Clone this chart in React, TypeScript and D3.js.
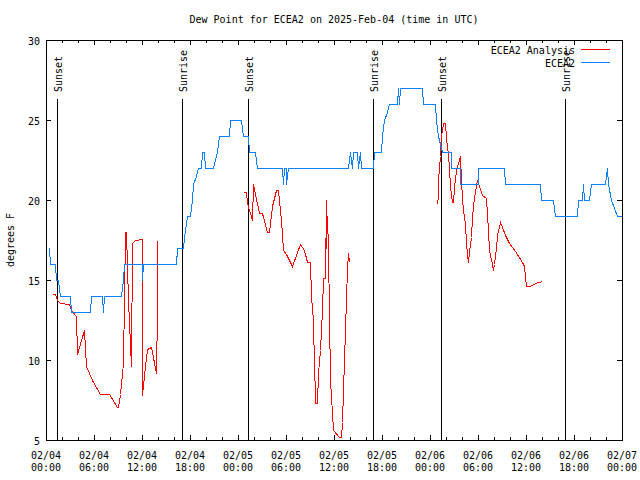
import React from "react";
import * as d3 from "d3";

const START = Date.UTC(2025, 1, 4, 0, 0);
const END = Date.UTC(2025, 1, 7, 0, 0);
const TITLE = "Dew Point for ECEA2 on 2025-Feb-04 (time in UTC)";
const Y_LABEL = "degrees F";
const yTicks = [5, 10, 15, 20, 25, 30];
const seriesNames = ["ECEA2 Analysis", "ECEA2"];
const seriesColors = ["#ff0000", "#0a80ff"];

// hours after 02/04 00:00 UTC
const eventHours = [1.42, 17.04, 25.29, 40.92, 49.42, 64.92];
const eventLabels = ["Sunset", "Sunrise", "Sunset", "Sunrise", "Sunset", "Sunrise"];

// ECEA2 station observations [hour, degF]
const stationSeries: [number, number][] = [
  [0.29, 17], [0.4, 17], [0.5, 16], [1.13, 16], [1.25, 15], [1.5, 15], [1.75, 14], [3.0, 14],
  [3.13, 13], [5.5, 13], [5.63, 14], [7.0, 14], [7.1, 13], [7.25, 14], [9.34, 14], [9.6, 15],
  [9.79, 16], [11.96, 16], [12.0, 15], [12.13, 16], [16.21, 16], [16.41, 17], [17.09, 17],
  [17.25, 17.7], [17.59, 19], [18.0, 19], [18.2, 20], [18.38, 21], [18.7, 21.5], [19.0, 22],
  [19.4, 22], [19.5, 23], [19.75, 23], [19.88, 22], [20.88, 22], [21.34, 23], [21.66, 24],
  [22.84, 24], [23.0, 25], [24.38, 25], [24.63, 24], [25.21, 24], [25.41, 23], [26.16, 23],
  [26.38, 22], [29.46, 22], [29.63, 21], [29.75, 22], [29.95, 22], [30.0, 21], [30.19, 22],
  [37.79, 22], [38.0, 23], [38.21, 22], [38.38, 23], [38.88, 23], [39.0, 22], [39.21, 23],
  [39.38, 22], [40.91, 22], [41.0, 23], [41.84, 23], [42.0, 24], [42.3, 25], [42.6, 25.5],
  [42.9, 26], [43.91, 26], [44.0, 27], [44.13, 26], [44.25, 27], [46.96, 27], [47.13, 26], [48.63, 26],
  [48.75, 25], [49.0, 24], [49.5, 23], [50.59, 23], [50.63, 22], [51.75, 22], [51.81, 21],
  [53.96, 21], [54.0, 22], [57.25, 22], [57.38, 21], [61.75, 21], [61.88, 20], [63.41, 20],
  [63.63, 19], [66.41, 19], [66.5, 20], [67.0, 20], [67.16, 21], [67.31, 20], [67.91, 20],
  [68.09, 21], [69.88, 21], [70.13, 22], [70.25, 21], [70.63, 20], [71.41, 19], [72, 19],
];

// ECEA2 Analysis segments [hour, degF]
const analysisSeg1: [number, number][] = [
  [0.79, 14.1], [1.13, 14.1], [1.38, 13.75], [1.75, 13.55], [2.91, 13.5], [3.13, 13.1],
  [3.75, 12.75], [3.91, 10.4], [4.34, 11.25], [4.79, 11.9], [4.96, 9.6], [5.79, 8.75],
  [6.75, 7.9], [7.91, 7.9], [8.84, 7.04], [9.0, 7.04], [9.25, 7.9], [9.66, 9.8], [9.88, 18.0],
  [10.0, 18.0], [10.29, 13.75], [10.59, 9.6], [10.79, 17.3], [11.13, 17.5], [11.96, 17.55],
  [12.0, 7.8], [12.38, 9.6], [12.66, 10.7], [13.13, 10.8], [13.75, 9.2], [13.88, 13.2],
  [13.91, 17.5],
];
const analysisSeg2: [number, number][] = [
  [24.66, 20.5], [24.96, 20.5], [25.13, 19.8], [25.71, 18.75], [25.91, 21.0], [26.06, 20.7],
  [26.66, 19.2], [27.0, 19.2], [27.66, 18.0], [27.88, 18.0], [28.21, 19.6], [28.71, 20.6],
  [29.0, 20.6], [29.34, 18.75], [29.66, 16.9], [30.0, 16.6], [30.79, 15.9], [31.75, 17.25],
  [32.25, 16.9], [32.66, 16.1], [33.0, 16.1], [33.13, 14.0], [33.38, 12.5], [33.54, 9.5],
  [33.63, 8.0], [33.66, 7.3], [33.91, 7.3], [34.0, 9.2], [34.25, 10.6], [34.5, 13.1],
  [34.66, 15.1], [34.88, 15.1], [34.96, 20.0], [35.04, 17.0], [35.13, 19.0], [35.19, 16.9],
  [35.38, 12.9], [35.5, 8.75], [35.79, 6.7], [35.88, 5.6], [36.59, 5.2], [36.88, 5.2],
  [37.0, 6.1], [37.13, 8.1], [37.25, 10.0], [37.38, 11.9], [37.5, 13.9], [37.63, 15.7],
  [37.75, 16.7], [37.88, 16.1],
];
const analysisSeg3: [number, number][] = [
  [48.71, 19.8], [48.88, 19.8], [48.96, 20.2], [49.04, 21.25], [49.13, 22.0], [49.25, 22.75],
  [49.41, 24.0], [49.66, 24.8], [49.88, 24.8], [50.0, 23.9], [50.25, 22.9], [50.38, 22.0],
  [50.5, 20.9], [50.71, 19.9], [50.88, 19.9], [51.0, 20.8], [51.25, 21.9], [51.75, 22.75],
  [51.88, 21.25], [52.0, 20.1], [52.13, 19.4], [52.38, 18.5], [52.5, 17.3], [52.63, 16.6],
  [52.79, 16.1], [52.88, 16.8], [53.13, 17.7], [53.25, 19.0], [53.5, 20.2], [53.84, 21.25],
  [54.13, 20.9], [54.5, 20.3], [55.0, 20.1], [55.13, 19.1], [55.25, 18.1], [55.38, 16.9],
  [55.71, 16.0], [55.84, 15.6], [56.0, 16.0], [56.25, 17.0], [56.38, 17.8], [56.75, 18.6],
  [57.0, 18.3], [57.38, 17.8], [57.88, 17.3], [58.63, 16.8], [59.5, 16.1], [59.75, 15.9],
  [59.96, 14.6], [60.5, 14.6], [61.13, 14.8], [61.96, 14.95],
];

const W = 640, H = 480;
const L = 46, R = 622, T = 40, B = 440;
const FONT = "'DejaVu Sans Mono', monospace";

const toDate = (h: number) => new Date(START + h * 3600e3);

export default function App() {
  const x = d3.scaleUtc().domain([new Date(START), new Date(END)]).range([L, R]);
  const y = d3.scaleLinear().domain([5, 30]).range([B, T]);
  const line = d3
    .line<[number, number]>()
    .x((d) => Math.round(x(toDate(d[0]))) + 0.5)
    .y((d) => Math.round(y(d[1])) + 0.5);

  const majorTicks = d3.utcHour.every(6)!.range(new Date(START), new Date(END + 1));
  const minorTicks = d3.utcHour.every(2)!.range(new Date(START), new Date(END + 1));
  const fmtDay = d3.utcFormat("%m/%d");
  const fmtTime = d3.utcFormat("%H:%M");

  return (
    <svg
      width={W}
      height={H}
      style={{ position: "fixed", left: 0, top: 0, background: "#fff" }}
      fontFamily={FONT}
      fontSize={10}
    >
      <rect x={0} y={0} width={W} height={H} fill="#fff" />
      <text x={(L + R) / 2} y={23} textAnchor="middle" fill="#000">
        {TITLE}
      </text>

      {/* event lines */}
      {eventHours.map((h, i) => {
        const ex = Math.round(x(toDate(h))) + 0.5;
        return (
          <g key={"ev" + i}>
            <line x1={ex} x2={ex} y1={99} y2={B} stroke="#000" strokeWidth={1} shapeRendering="crispEdges" />
            <text
              transform={`translate(${ex + 4},92) rotate(-90)`}
              textAnchor="start"
              fill="#000"
            >
              {eventLabels[i]}
            </text>
          </g>
        );
      })}

      {/* series */}
      {[analysisSeg1, analysisSeg2, analysisSeg3].map((seg, i) => (
        <path key={"a" + i} d={line(seg) || ""} fill="none" stroke={seriesColors[0]} strokeWidth={1} shapeRendering="crispEdges" />
      ))}
      <path d={line(stationSeries) || ""} fill="none" stroke={seriesColors[1]} strokeWidth={1} shapeRendering="crispEdges" />

      {/* axes box */}
      <rect x={L + 0.5} y={T + 0.5} width={R - L} height={B - T} fill="none" stroke="#000" strokeWidth={1} shapeRendering="crispEdges" />

      {/* x ticks */}
      {minorTicks.map((d, i) => {
        const tx = Math.round(x(d)) + 0.5;
        const major = d.getUTCHours() % 6 === 0;
        const len = major ? 5 : 3;
        return (
          <g key={"xt" + i} shapeRendering="crispEdges">
            <line x1={tx} x2={tx} y1={B} y2={B - len} stroke="#000" />
            <line x1={tx} x2={tx} y1={T} y2={T + len} stroke="#000" />
          </g>
        );
      })}
      {majorTicks.map((d, i) => {
        const tx = x(d);
        return (
          <g key={"xl" + i}>
            <text x={tx} y={459} textAnchor="middle" fill="#000">
              {fmtDay(d)}
            </text>
            <text x={tx} y={471} textAnchor="middle" fill="#000">
              {fmtTime(d)}
            </text>
          </g>
        );
      })}

      {/* y ticks */}
      {yTicks.map((v, i) => {
        const ty = Math.round(y(v)) + 0.5;
        return (
          <g key={"yt" + i}>
            <line x1={L} x2={L + 5} y1={ty} y2={ty} stroke="#000" shapeRendering="crispEdges" />
            <line x1={R - 5} x2={R} y1={ty} y2={ty} stroke="#000" shapeRendering="crispEdges" />
            <text x={40} y={ty + 4} textAnchor="end" fill="#000">
              {v}
            </text>
          </g>
        );
      })}
      <text transform={`translate(14,${(T + B) / 2}) rotate(-90)`} textAnchor="middle" fill="#000">
        {Y_LABEL}
      </text>

      {/* legend */}
      {seriesNames.map((name, i) => {
        const ly = 49.5 + i * 13;
        return (
          <g key={"lg" + i}>
            <text x={575} y={ly + 4} textAnchor="end" fill="#000">
              {name}
            </text>
            <line x1={581} x2={610} y1={ly} y2={ly} stroke={seriesColors[i]} shapeRendering="crispEdges" />
          </g>
        );
      })}
    </svg>
  );
}
